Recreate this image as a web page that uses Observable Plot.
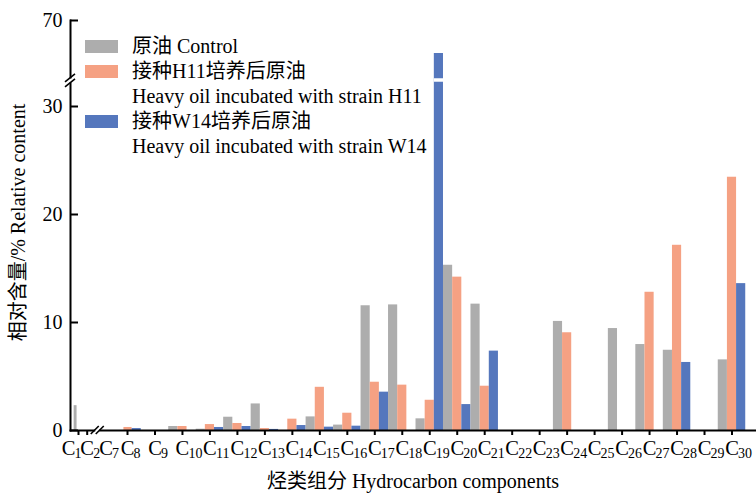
<!DOCTYPE html>
<html><head><meta charset="utf-8">
<script src="https://cdn.jsdelivr.net/npm/d3@7"></script>
<script src="https://cdn.jsdelivr.net/npm/@observablehq/plot@0.6"></script>
<style>
body{margin:0;background:#fff;}
#wrap{position:relative;width:756px;height:493px;font-family:"Liberation Serif","Noto Sans CJK SC",serif;}
#legend{position:absolute;left:0;top:0;}
.row{position:absolute;left:0;height:25px;line-height:25px;font-size:20px;white-space:nowrap;}
.sw{position:absolute;left:85px;top:6px;width:33px;height:13px;}
.tx{position:absolute;left:132px;top:0;}
</style></head>
<body><div id="wrap"><div id="chart"></div><div id="legend"></div></div>
<script>
// ---- data ----
const carbons = [1,2,7,8,9,10,11,12,13,14,15,16,17,18,19,20,21,22,23,24,25,26,27,28,29,30];
const control = [2.3,0,0,0,0,0.37,0.12,1.23,2.46,0,1.26,0.5,11.55,11.63,1.08,15.3,11.7,0,0,10.1,0,9.44,7.96,7.43,0,6.54];
const h11     = [0,0,0,0.28,0,0.37,0.55,0.65,0.18,1.05,4.0,1.6,4.47,4.2,2.8,14.2,4.1,0,0,9.05,0,0,12.8,17.15,0,23.45];
const w14     = [0,0,0,0.18,0,0,0.28,0.37,0.1,0.46,0.31,0.4,3.55,0,64.5,2.4,7.35,0,0,0,0,0,0,6.3,0,13.6];
const seriesKeys = ["control","h11","w14"];
const seriesCN = ["原油 Control","接种H11培养后原油","接种W14培养后原油"];
const seriesEN = [null,"Heavy oil incubated with strain H11","Heavy oil incubated with strain W14"];
const seriesColors = ["#adadad","#f5a183","#5577bd"];
const yTicks = [0,10,20,30,70];
const xTitle = "烃类组分 Hydrocarbon components";
const yTitle = "相对含量/% Relative content";

const values = [control, h11, w14];
const rows = [];
carbons.forEach((c, j) => seriesKeys.forEach((s, i) => {
  if (values[i][j] > 0) rows.push({c, i, s, v: values[i][j]});
}));
const x1 = d => d.c - 0.5 + d.i / 3;
const x2 = d => d.c - 0.5 + (d.i + 1) / 3;
const brokenRows = rows.filter(d => d.v > 60);
const tickCarbons = carbons.filter(c => c !== 7);
const firstC = carbons.filter(c => c === 1);
const otherC = carbons.filter(c => c !== 1);

const FONT = '"Liberation Serif","Noto Sans CJK SC",serif';
const plot = Plot.plot({
  width: 756, height: 493,
  marginLeft: 70, marginRight: 1, marginTop: 20, marginBottom: 63,
  style: {fontFamily: FONT, background: "white", color: "black", overflow: "visible"},
  x: {type: "linear", domain: [1, 2, 7, 8, 30], range: [78, 86.7, 105.5, 127, 731.5], axis: null},
  y: {type: "linear", domain: [0, 32.5, 60, 70], range: [430, 79, 80, 20], axis: null},
  color: {domain: seriesKeys, range: seriesColors},
  marks: [
    Plot.rectY(rows, {x1, x2, y1: 0, y2: "v", fill: "s"}),
    Plot.ruleY(brokenRows, {x1, x2, y: 46, stroke: "white", strokeWidth: 3.5}),
    Plot.axisY({ticks: yTicks, tickSize: 0, tickPadding: 8, fontSize: 20, label: null}),
    Plot.ruleY(yTicks, {y: d => d, insetRight: 677, strokeWidth: 2}),
    Plot.ruleX(tickCarbons, {x: d => d, insetTop: 405, dy: 5, strokeWidth: 2}),
    Plot.frame({anchor: "left", strokeWidth: 2}),
    Plot.frame({anchor: "bottom", strokeWidth: 2}),
    Plot.text(otherC, {x: d => d, text: () => "C", frameAnchor: "bottom", lineAnchor: "middle", dy: 17.5, fontSize: 20.5}),
    Plot.text(otherC, {x: d => d, text: d => String(d), frameAnchor: "bottom", lineAnchor: "middle", textAnchor: "start", dx: 6, dy: 23.5, fontSize: 14}),
    Plot.text(firstC, {x: d => d, text: () => "C", frameAnchor: "bottom", lineAnchor: "middle", dx: -10, dy: 17.5, fontSize: 20.5}),
    Plot.text(firstC, {x: d => d, text: d => String(d), frameAnchor: "bottom", lineAnchor: "middle", textAnchor: "start", dx: -4, dy: 23.5, fontSize: 14}),
    Plot.text([xTitle], {frameAnchor: "bottom", lineAnchor: "middle", dy: 51, fontSize: 20}),
    Plot.text([yTitle], {frameAnchor: "left", textAnchor: "middle", lineAnchor: "middle", rotate: -90, dx: -52, dy: -3, fontSize: 20})
  ]
});
document.getElementById("chart").appendChild(plot);

// axis break symbols, positioned through the scales
const xs = plot.scale("x"), ys = plot.scale("y");
const svg = d3.select(plot);
function breakMark(cx, cy, horizontal) {
  const g = svg.append("g");
  if (horizontal) {
    g.append("rect").attr("x", cx - 2).attr("y", cy - 3).attr("width", 4).attr("height", 6).attr("fill", "white");
    [-2.5, 2.5].forEach(o => g.append("line").attr("x1", cx + o - 4).attr("y1", cy + 4).attr("x2", cx + o + 4).attr("y2", cy - 4).attr("stroke", "black").attr("stroke-width", 1.6));
  } else {
    g.append("rect").attr("x", cx - 3).attr("y", cy - 2).attr("width", 6).attr("height", 4).attr("fill", "white");
    [-2.5, 2.5].forEach(o => g.append("line").attr("x1", cx - 5).attr("y1", cy + o + 4).attr("x2", cx + 5).attr("y2", cy + o - 4).attr("stroke", "black").attr("stroke-width", 1.6));
  }
}
breakMark(70, ys.apply(46) + 1, false);
breakMark(xs.apply(4.8), 430, true);

// legend
const leg = document.getElementById("legend");
let r = 0;
seriesKeys.forEach((k, i) => {
  const lines = [seriesCN[i], seriesEN[i]].filter(Boolean);
  lines.forEach((t, li) => {
    const row = document.createElement("div");
    row.className = "row";
    row.style.top = (34 + r * 25) + "px";
    if (li === 0) {
      const sw = document.createElement("div");
      sw.className = "sw"; sw.style.background = seriesColors[i];
      row.appendChild(sw);
    }
    const tx = document.createElement("div");
    tx.className = "tx"; tx.textContent = t;
    row.appendChild(tx);
    leg.appendChild(row);
    r++;
  });
});
</script></body></html>
